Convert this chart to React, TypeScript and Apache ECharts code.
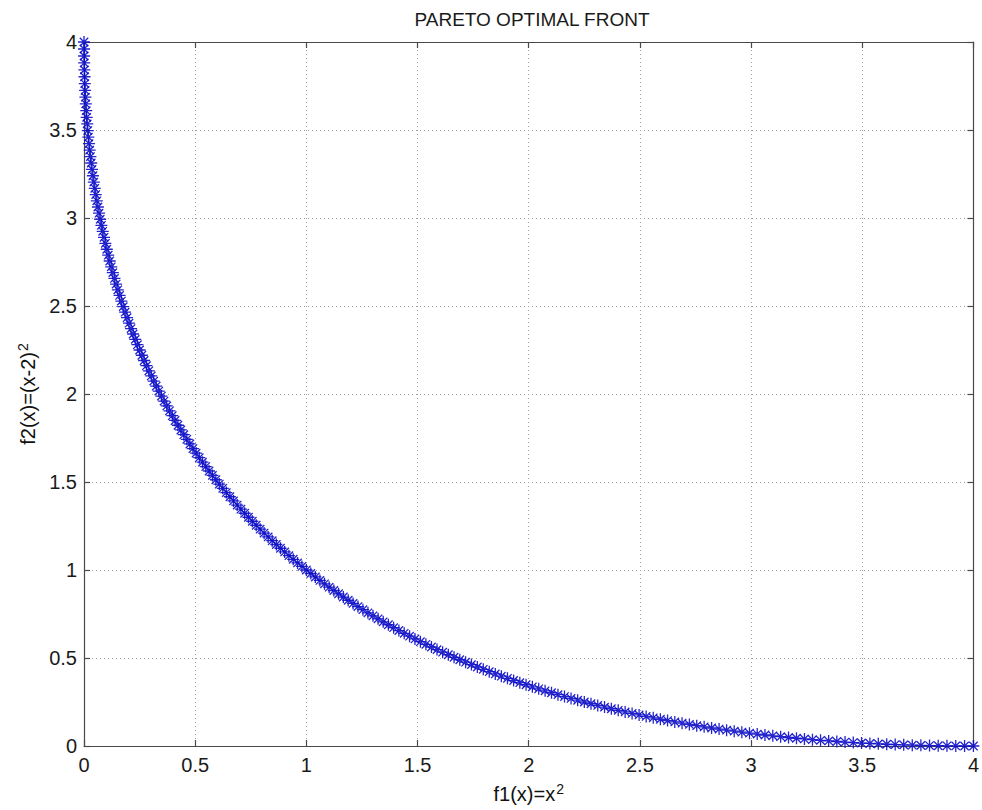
import React, { useEffect, useRef } from "react";
import * as echarts from "echarts";

const titleText = "PARETO OPTIMAL FRONT";
const axisTicks = [0, 0.5, 1, 1.5, 2, 2.5, 3, 3.5, 4];

const f1Values = [
  0, 0.0001, 0.0004, 0.0009, 0.0016, 0.0025, 0.0036, 0.0049, 0.0064, 0.0081,
  0.01, 0.0121, 0.0144, 0.0169, 0.0196, 0.0225, 0.0256, 0.0289, 0.0324, 0.0361,
  0.04, 0.0441, 0.0484, 0.0529, 0.0576, 0.0625, 0.0676, 0.0729, 0.0784, 0.0841,
  0.09, 0.0961, 0.1024, 0.1089, 0.1156, 0.1225, 0.1296, 0.1369, 0.1444, 0.1521,
  0.16, 0.1681, 0.1764, 0.1849, 0.1936, 0.2025, 0.2116, 0.2209, 0.2304, 0.2401,
  0.25, 0.2601, 0.2704, 0.2809, 0.2916, 0.3025, 0.3136, 0.3249, 0.3364, 0.3481,
  0.36, 0.3721, 0.3844, 0.3969, 0.4096, 0.4225, 0.4356, 0.4489, 0.4624, 0.4761,
  0.49, 0.5041, 0.5184, 0.5329, 0.5476, 0.5625, 0.5776, 0.5929, 0.6084, 0.6241,
  0.64, 0.6561, 0.6724, 0.6889, 0.7056, 0.7225, 0.7396, 0.7569, 0.7744, 0.7921,
  0.81, 0.8281, 0.8464, 0.8649, 0.8836, 0.9025, 0.9216, 0.9409, 0.9604, 0.9801,
  1, 1.0201, 1.0404, 1.0609, 1.0816, 1.1025, 1.1236, 1.1449, 1.1664, 1.1881,
  1.21, 1.2321, 1.2544, 1.2769, 1.2996, 1.3225, 1.3456, 1.3689, 1.3924, 1.4161,
  1.44, 1.4641, 1.4884, 1.5129, 1.5376, 1.5625, 1.5876, 1.6129, 1.6384, 1.6641,
  1.69, 1.7161, 1.7424, 1.7689, 1.7956, 1.8225, 1.8496, 1.8769, 1.9044, 1.9321,
  1.96, 1.9881, 2.0164, 2.0449, 2.0736, 2.1025, 2.1316, 2.1609, 2.1904, 2.2201,
  2.25, 2.2801, 2.3104, 2.3409, 2.3716, 2.4025, 2.4336, 2.4649, 2.4964, 2.5281,
  2.56, 2.5921, 2.6244, 2.6569, 2.6896, 2.7225, 2.7556, 2.7889, 2.8224, 2.8561,
  2.89, 2.9241, 2.9584, 2.9929, 3.0276, 3.0625, 3.0976, 3.1329, 3.1684, 3.2041,
  3.24, 3.2761, 3.3124, 3.3489, 3.3856, 3.4225, 3.4596, 3.4969, 3.5344, 3.5721,
  3.61, 3.6481, 3.6864, 3.7249, 3.7636, 3.8025, 3.8416, 3.8809, 3.9204, 3.9601,
  4,
];

const f2Values = [
  4, 3.9601, 3.9204, 3.8809, 3.8416, 3.8025, 3.7636, 3.7249, 3.6864, 3.6481,
  3.61, 3.5721, 3.5344, 3.4969, 3.4596, 3.4225, 3.3856, 3.3489, 3.3124, 3.2761,
  3.24, 3.2041, 3.1684, 3.1329, 3.0976, 3.0625, 3.0276, 2.9929, 2.9584, 2.9241,
  2.89, 2.8561, 2.8224, 2.7889, 2.7556, 2.7225, 2.6896, 2.6569, 2.6244, 2.5921,
  2.56, 2.5281, 2.4964, 2.4649, 2.4336, 2.4025, 2.3716, 2.3409, 2.3104, 2.2801,
  2.25, 2.2201, 2.1904, 2.1609, 2.1316, 2.1025, 2.0736, 2.0449, 2.0164, 1.9881,
  1.96, 1.9321, 1.9044, 1.8769, 1.8496, 1.8225, 1.7956, 1.7689, 1.7424, 1.7161,
  1.69, 1.6641, 1.6384, 1.6129, 1.5876, 1.5625, 1.5376, 1.5129, 1.4884, 1.4641,
  1.44, 1.4161, 1.3924, 1.3689, 1.3456, 1.3225, 1.2996, 1.2769, 1.2544, 1.2321,
  1.21, 1.1881, 1.1664, 1.1449, 1.1236, 1.1025, 1.0816, 1.0609, 1.0404, 1.0201,
  1, 0.9801, 0.9604, 0.9409, 0.9216, 0.9025, 0.8836, 0.8649, 0.8464, 0.8281,
  0.81, 0.7921, 0.7744, 0.7569, 0.7396, 0.7225, 0.7056, 0.6889, 0.6724, 0.6561,
  0.64, 0.6241, 0.6084, 0.5929, 0.5776, 0.5625, 0.5476, 0.5329, 0.5184, 0.5041,
  0.49, 0.4761, 0.4624, 0.4489, 0.4356, 0.4225, 0.4096, 0.3969, 0.3844, 0.3721,
  0.36, 0.3481, 0.3364, 0.3249, 0.3136, 0.3025, 0.2916, 0.2809, 0.2704, 0.2601,
  0.25, 0.2401, 0.2304, 0.2209, 0.2116, 0.2025, 0.1936, 0.1849, 0.1764, 0.1681,
  0.16, 0.1521, 0.1444, 0.1369, 0.1296, 0.1225, 0.1156, 0.1089, 0.1024, 0.0961,
  0.09, 0.0841, 0.0784, 0.0729, 0.0676, 0.0625, 0.0576, 0.0529, 0.0484, 0.0441,
  0.04, 0.0361, 0.0324, 0.0289, 0.0256, 0.0225, 0.0196, 0.0169, 0.0144, 0.0121,
  0.01, 0.0081, 0.0064, 0.0049, 0.0036, 0.0025, 0.0016, 0.0009, 0.0004, 0.0001,
  0,
];

const FONT = "'Liberation Sans', Arial, sans-serif";
const AXIS_COLOR = "#4a4a4a";
const GRID_COLOR = "#a0a0a0";
const MARK_COLOR = "#0c0cc8";
const ASTERISK =
  "path://M5,0L5,10M0,5L10,5M1.5,1.5L8.5,8.5M1.5,8.5L8.5,1.5";

export default function App() {
  const ref = useRef<HTMLDivElement>(null);

  useEffect(() => {
    if (!ref.current) return;
    const chart = echarts.init(ref.current, null, { renderer: "svg" });
    const tMin = axisTicks[0];
    const tMax = axisTicks[axisTicks.length - 1];
    const tStep = axisTicks[1] - axisTicks[0];
    const points = f1Values.map((v, i) => [v, f2Values[i]]);

    const nameRich = {
      a: { fontSize: 20, fontFamily: FONT, color: "#111" },
      s: {
        fontSize: 14,
        fontFamily: FONT,
        color: "#111",
        verticalAlign: "top",
        padding: [0, 0, 10, 1],
      },
    };

    const baseAxis = {
      min: tMin,
      max: tMax,
      interval: tStep,
      axisLine: { show: true, onZero: false, lineStyle: { color: AXIS_COLOR, width: 1.2 } },
      axisTick: { show: true, inside: true, length: 6, lineStyle: { color: AXIS_COLOR, width: 1.2 } },
    };

    chart.setOption({
      animation: false,
      backgroundColor: "#ffffff",
      title: {
        text: titleText,
        left: 527,
        top: 5,
        textAlign: "center",
        textStyle: { fontFamily: FONT, fontSize: 19, fontWeight: "normal", color: "#1a1a1a" },
      },
      grid: { left: 84, right: 2, top: 42, bottom: 64, containLabel: false },
      xAxis: [
        {
          ...baseAxis,
          type: "value",
          position: "bottom",
          axisLabel: { fontFamily: FONT, fontSize: 20, color: "#1a1a1a", margin: 9 },
          splitLine: { show: true, lineStyle: { color: GRID_COLOR, type: [1, 3], width: 1 } },
          name: "{a|f1(x)=x}{s|2}",
          nameLocation: "middle",
          nameGap: 36,
          nameTextStyle: { rich: nameRich },
        },
        {
          ...baseAxis,
          type: "value",
          position: "top",
          axisLabel: { show: false },
          splitLine: { show: false },
        },
      ],
      yAxis: [
        {
          ...baseAxis,
          type: "value",
          position: "left",
          axisLabel: { fontFamily: FONT, fontSize: 20, color: "#1a1a1a", margin: 7 },
          splitLine: { show: true, lineStyle: { color: GRID_COLOR, type: [1, 3], width: 1 } },
          name: "{a|f2(x)=(x-2)}{s|2}",
          nameLocation: "middle",
          nameGap: 40,
          nameRotate: 90,
          nameTextStyle: { rich: nameRich },
        },
        {
          ...baseAxis,
          type: "value",
          position: "right",
          axisLabel: { show: false },
          splitLine: { show: false },
        },
      ],
      series: [
        {
          type: "scatter",
          xAxisIndex: 0,
          yAxisIndex: 0,
          data: points,
          symbol: ASTERISK,
          symbolSize: 12,
          itemStyle: { color: MARK_COLOR, borderColor: MARK_COLOR, borderWidth: 1.3, opacity: 0.9 },
          emphasis: { disabled: true },
          clip: false,
        },
      ],
    });

    return () => chart.dispose();
  }, []);

  return (
    <div
      ref={ref}
      style={{ position: "fixed", left: 0, top: 0, width: 982, height: 810, background: "#fff" }}
    />
  );
}
